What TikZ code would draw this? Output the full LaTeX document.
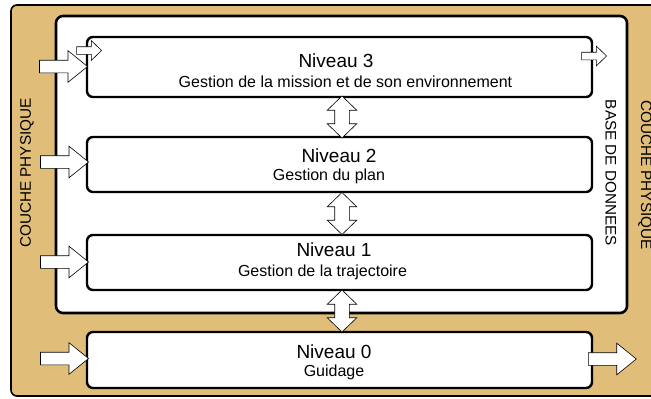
\documentclass[tikz,border=0pt]{standalone}
\usepackage{fontspec}
\setmainfont{Liberation Sans}
\usetikzlibrary{shapes.arrows,positioning}
\definecolor{couche}{RGB}{224,190,122}

\begin{document}
\begin{tikzpicture}[x=1pt,y=-1pt,
  niveau/.style={draw=black, line width=2.4pt, rounded corners=6pt, fill=white, inner sep=0pt},
  titre/.style={anchor=base, font=\fontsize{19}{19}\selectfont, inner sep=0pt},
  soustitre/.style={anchor=base, font=\fontsize{16}{16}\selectfont, inner sep=0pt},
  cote/.style={font=\fontsize{15.3}{15.3}\selectfont, inner sep=0pt},
  grossefleche/.style={single arrow, draw=black, fill=white, line width=0.6pt,
    inner xsep=0pt, inner ysep=6pt, minimum height=48pt, minimum width=31pt,
    single arrow head extend=9.5pt, single arrow tip angle=78},
  petitefleche/.style={single arrow, draw=black, fill=white, line width=0.6pt,
    inner xsep=0pt, inner ysep=3.5pt, minimum height=25pt, minimum width=19pt,
    single arrow head extend=6pt, single arrow tip angle=88},
  doublefleche/.style={double arrow, draw=black, fill=white, line width=0.6pt,
    rotate=90, inner xsep=0pt, inner ysep=7pt, minimum width=29pt,
    double arrow head extend=7.5pt, double arrow tip angle=92},
]
\useasboundingbox (0,0) rectangle (651,399);
% couche physique et base de donnees
\draw[fill=couche, line width=1.6pt, rounded corners=6pt] (11,5) rectangle (670,396);
\draw[fill=white, line width=2.6pt, rounded corners=7pt] (56,16) rectangle (627,313);
\node[cote, rotate=90] (cp1) at (27,173) {COUCHE PHYSIQUE};
\node[cote, rotate=-90] (cp2) at (645,175) {COUCHE PHYSIQUE};
\node[cote, rotate=-90] (bd) at (611,173) {BASE DE DONNEES};

% les niveaux
\node[niveau, minimum width=505pt, minimum height=60pt] (n3) at (339.5,67) {};
\node[niveau, minimum width=505pt, minimum height=55pt] (n2) at (339.5,164.5) {};
\node[niveau, minimum width=505pt, minimum height=55pt] (n1) at (339.5,262.5) {};
\node[niveau, minimum width=505pt, minimum height=56pt] (n0) at (339.5,360) {};

\node[titre] (t3) at (336,67.3) {Niveau 3};
\node[soustitre] (s3) at (345.5,87.7) {Gestion de la mission et de son environnement};
\node[titre] (t2) at (339,162.7) {Niveau 2};
\node[soustitre] (s2) at (329,180.5) {Gestion du plan};
\node[titre] (t1) at (334,256.7) {Niveau 1};
\node[soustitre] (s1) at (322.5,276.5) {Gestion de la trajectoire};
\node[titre] (t0) at (334,358.3) {Niveau 0};
\node[soustitre] (s0) at (334,376.7) {Guidage};

% fleches entre niveaux
\foreach \a/\b in {n3/n2, n2/n1, n1/n0}
\path (\a.south) -- (\b.north) node[midway, xshift=2.5pt, doublefleche, minimum height=42pt] (d\a) {};

% fleches d'entree et de sortie
\node[grossefleche, anchor=tip] (e3) at (88,66.5) {};
\node[grossefleche, anchor=tip] (e2) at (89,162) {};
\node[grossefleche, anchor=tip] (e1) at (89,262) {};
\node[grossefleche, anchor=tip] (e0) at (89,358.5) {};
\node[grossefleche, anchor=tail] (o0) at (588,359) {};
\node[petitefleche, anchor=tip] (p3) at (102,50.5) {};
\node[petitefleche, anchor=tip] (q3) at (607,56) {};
\end{tikzpicture}
\end{document}
